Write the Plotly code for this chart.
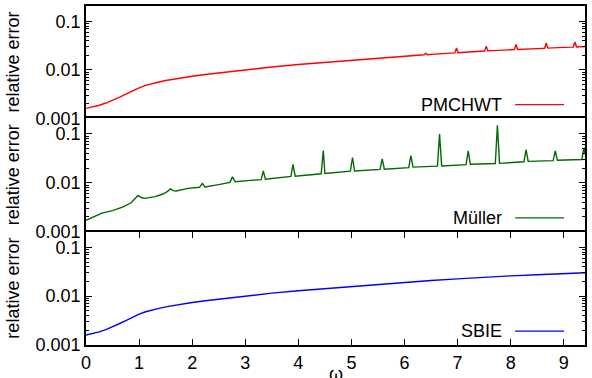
import plotly.graph_objects as go
from plotly.subplots import make_subplots

# ---- data ----
pm_x = [0, 0.125, 0.25, 0.375, 0.5, 0.625, 0.75, 0.875, 1.0, 1.125, 1.25, 1.375, 1.5,
        1.75, 2.0, 2.25, 2.5, 2.75, 3.0, 3.5, 4.0, 4.5, 5.0, 5.5, 6.0,
        6.37, 6.40, 6.43, 6.5, 6.95, 6.98, 7.01, 7.5, 7.51, 7.54, 7.57, 8.0, 8.07, 8.10,
        8.13, 8.5, 8.64, 8.67, 8.70, 9.0, 9.18, 9.21, 9.24, 9.4]
pm_y = [0.00160, 0.00170, 0.00186, 0.00207, 0.00234, 0.00272, 0.00316, 0.00372, 0.00427,
        0.00479, 0.00525, 0.00562, 0.00603, 0.00676, 0.00741, 0.00806, 0.00871, 0.00935,
        0.0100, 0.0115, 0.0129, 0.0143, 0.0158, 0.0176, 0.0193,
        0.0205, 0.0222, 0.0206, 0.0209, 0.0225, 0.0284, 0.0226, 0.0245, 0.0245, 0.0310,
        0.0247, 0.0260, 0.0262, 0.0335, 0.0264, 0.0275, 0.0280, 0.0360, 0.0282, 0.0292,
        0.0296, 0.0380, 0.0298, 0.0302]

mu_x = [0.00, 0.10, 0.20, 0.30, 0.50, 0.70, 0.85, 0.93, 0.98, 1.04, 1.11, 1.30, 1.45,
        1.53, 1.59, 1.64, 1.70, 1.92, 2.14, 2.19, 2.24, 2.50, 2.71, 2.76, 2.81, 3.10,
        3.30, 3.34, 3.38, 3.86, 3.90, 3.94, 4.43, 4.47, 4.50, 4.98, 5.02, 5.06, 5.54,
        5.58, 5.62, 6.08, 6.12, 6.16, 6.62, 6.66, 6.70, 7.16, 7.20, 7.24, 7.71, 7.75,
        7.79, 8.25, 8.29, 8.33, 8.80, 8.84, 8.88, 9.34, 9.38, 9.40]
mu_y = [0.0017, 0.0019, 0.0022, 0.0024, 0.0027, 0.0032, 0.0039, 0.0047, 0.0055, 0.0050,
        0.0048, 0.0052, 0.0059, 0.0066, 0.0075, 0.0069, 0.0068, 0.0077, 0.0081, 0.0097,
        0.0082, 0.0092, 0.0102, 0.0132, 0.0105, 0.0112, 0.0116, 0.0175, 0.0118, 0.0135,
        0.0239, 0.0137, 0.0153, 0.046, 0.0155, 0.0173, 0.033, 0.0175, 0.0188, 0.031,
        0.0190, 0.0205, 0.036, 0.0210, 0.0220, 0.100, 0.0222, 0.0235, 0.045, 0.0240,
        0.0248, 0.150, 0.0250, 0.0270, 0.048, 0.0275, 0.0285, 0.045, 0.0290, 0.0300,
        0.052, 0.040]

sb_x = [0, 0.125, 0.25, 0.375, 0.5, 0.625, 0.75, 0.875, 1.0, 1.125, 1.25, 1.375, 1.5,
        1.75, 2.0, 2.25, 2.5, 2.75, 3.0, 3.5, 4.0, 4.5, 5.0, 5.5, 6.0, 6.5, 7.0, 7.5,
        8.0, 8.5, 9.0, 9.4]
sb_y = [0.00160, 0.00170, 0.00186, 0.00207, 0.00234, 0.00272, 0.00316, 0.00372, 0.00427,
        0.00479, 0.00525, 0.00562, 0.00603, 0.00676, 0.00741, 0.00806, 0.00871, 0.00935,
        0.0100, 0.0115, 0.0129, 0.0143, 0.0158, 0.0176, 0.0193, 0.0209, 0.0226, 0.0245,
        0.0260, 0.0275, 0.0292, 0.0302]

series_names = ["PMCHWT", "Müller", "SBIE"]
series_colors = ["#ff0000", "#006a00", "#0000ff"]
y_tickvals = [0.001, 0.01, 0.1]
y_ticktext = ["0.001", "0.01", "0.1"]
y_minor = [m * 10.0 ** e for e in (-3, -2) for m in range(2, 10)] + [0.2]
x_tickvals = [0, 1, 2, 3, 4, 5, 6, 7, 8, 9]
x_title = "ω"
y_title = "relative error"

FONT = "Liberation Sans, Arial, sans-serif"
FS = 18
LW = 1.8

fig = make_subplots(rows=3, cols=1, shared_xaxes=False, vertical_spacing=0)

datasets = [(pm_x, pm_y), (mu_x, mu_y), (sb_x, sb_y)]
for i, ((xs, ys), name, col) in enumerate(zip(datasets, series_names, series_colors)):
    r = i + 1
    fig.add_trace(go.Scatter(x=xs, y=ys, mode="lines", name=name,
                             line=dict(color=col, width=1.4), showlegend=False),
                  row=r, col=1)

# domains (plot area is 344 px tall: panels 114/115/115 px)
doms = [[0.6686, 1.0], [0.3343, 0.6686], [0.0, 0.3343]]
for i in range(3):
    r = i + 1
    last = (r == 3)
    if last:
        fig.update_xaxes(row=r, col=1, range=[0, 9.4], showline=True, linewidth=LW,
                         linecolor="black", mirror="ticks", ticks="inside", ticklen=6,
                         tickcolor="black", tickvals=x_tickvals, showticklabels=True,
                         showgrid=False, zeroline=False,
                         tickfont=dict(family=FONT, size=FS, color="black"))
    else:
        # only the top frame line of this panel; the next panel draws the line below
        fig.update_xaxes(row=r, col=1, range=[0, 9.4], side="top", showline=True,
                         linewidth=LW, linecolor="black", mirror=False, ticks="",
                         showticklabels=False, showgrid=False, zeroline=False)
    fig.update_yaxes(row=r, col=1, type="log", range=[-3.0005, -0.68], domain=doms[i],
                     showline=True, linewidth=LW, linecolor="black", mirror="ticks",
                     ticks="inside", ticklen=6, tickcolor="black",
                     tickvals=y_tickvals, ticktext=y_ticktext, showgrid=False,
                     zeroline=False, tickfont=dict(family=FONT, size=FS, color="black"),
                     minor=dict(ticks="inside", ticklen=3, tickcolor="black",
                                tickvals=y_minor, showgrid=False))

# y titles and legend-like keys
for i, (name, col) in enumerate(zip(series_names, series_colors)):
    r = i + 1
    ysuf = "" if r == 1 else str(r)
    d0, d1 = doms[i]
    fig.add_annotation(text=y_title, xref="paper", yref="paper",
                       x=-(86 - 13) / 501, y=(d0 + d1) / 2, textangle=-90,
                       xanchor="center", yanchor="middle", showarrow=False,
                       font=dict(family=FONT, size=FS, color="black"))
    fig.add_annotation(text=name, xref=f"x{ysuf} domain", yref=f"y{ysuf} domain",
                       x=0.838, y=0.122, xanchor="right", yanchor="middle",
                       showarrow=False, font=dict(family=FONT, size=FS, color="black"))
    fig.add_shape(type="line", xref=f"x{ysuf} domain", yref=f"y{ysuf} domain",
                  x0=0.860, x1=0.958, y0=0.122, y1=0.122,
                  line=dict(color=col, width=1.4))

fig.add_annotation(text=x_title, xref="paper", yref="paper", x=0.501, y=-0.05,
                   xanchor="center", yanchor="top", showarrow=False,
                   font=dict(family=FONT, size=FS, color="black"))

fig.update_layout(width=592, height=378, margin=dict(l=86, r=5, t=6, b=28),
                  plot_bgcolor="white", paper_bgcolor="white",
                  font=dict(family=FONT, size=FS, color="black"))

fig.write_html("out.html")
